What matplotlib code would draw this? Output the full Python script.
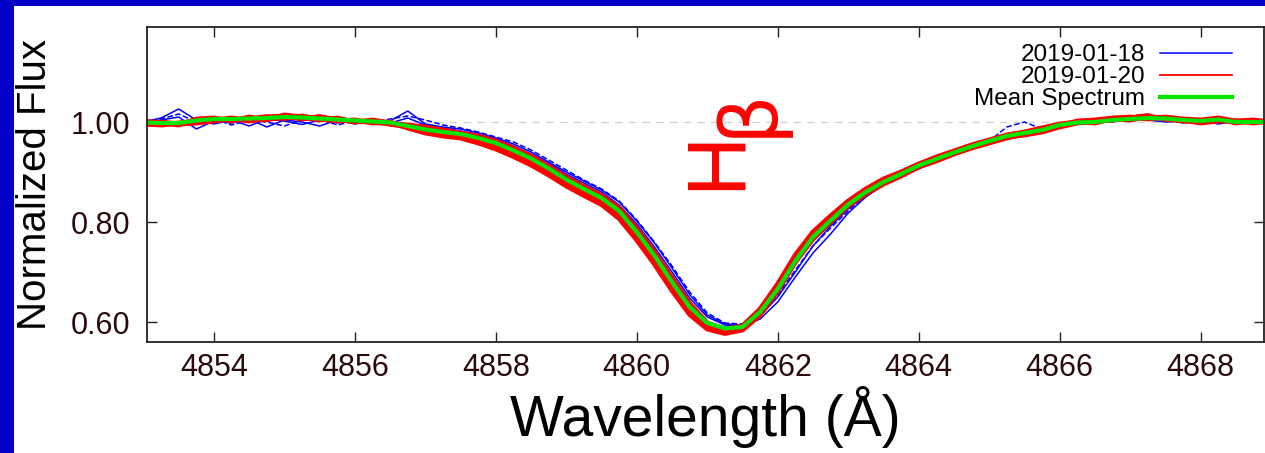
import numpy as np
import matplotlib.pyplot as plt
from matplotlib.lines import Line2D
from matplotlib.patches import Rectangle

plt.rcParams['font.family'] = ['Liberation Sans', 'DejaVu Sans']

# wavelength grid (Angstrom)
wave = [4853.00, 4853.25, 4853.50, 4853.75, 4854.00, 4854.25, 4854.50, 4854.75,
        4855.00, 4855.25, 4855.50, 4855.75, 4856.00, 4856.25, 4856.50, 4856.75,
        4857.00, 4857.25, 4857.50, 4857.75, 4858.00, 4858.25, 4858.50, 4858.75,
        4859.00, 4859.25, 4859.50, 4859.75, 4860.00, 4860.25, 4860.50, 4860.75,
        4861.00, 4861.25, 4861.50, 4861.75, 4862.00, 4862.25, 4862.50, 4862.75,
        4863.00, 4863.25, 4863.50, 4863.75, 4864.00, 4864.25, 4864.50, 4864.75,
        4865.00, 4865.25, 4865.50, 4865.75, 4866.00, 4866.25, 4866.50, 4866.75,
        4867.00, 4867.25, 4867.50, 4867.75, 4868.00, 4868.25, 4868.50, 4868.75,
        4869.00]

# 2019-01-18 spectra
blue_1 = [1.000, 1.008, 1.026, 1.004, 0.996, 1.004, 0.992, 1.006,
          1.002, 0.995, 1.004, 0.998, 1.004, 0.996, 1.002, 1.022,
          0.996, 0.990, 0.986, 0.978, 0.968, 0.956, 0.940, 0.920,
          0.900, 0.882, 0.864, 0.840, 0.802, 0.758, 0.708, 0.655,
          0.614, 0.596, 0.594, 0.612, 0.650, 0.700, 0.752, 0.792,
          0.826, 0.854, 0.878, 0.894, 0.910, 0.924, 0.936, 0.948,
          0.958, 0.968, 0.976, 0.984, 0.992, 0.998, 1.002, 1.006,
          1.004, 1.008, 1.004, 1.000, 0.998, 1.004, 0.996, 1.000,
          1.000]
blue_2 = [0.998, 1.004, 1.010, 0.986, 1.002, 0.998, 1.006, 0.990,
          1.004, 1.000, 0.992, 1.004, 0.996, 1.006, 0.998, 1.008,
          0.994, 0.988, 0.982, 0.974, 0.966, 0.952, 0.936, 0.918,
          0.896, 0.878, 0.860, 0.834, 0.796, 0.750, 0.700, 0.648,
          0.610, 0.594, 0.592, 0.606, 0.640, 0.690, 0.738, 0.776,
          0.818, 0.850, 0.874, 0.892, 0.906, 0.922, 0.934, 0.946,
          0.956, 0.970, 0.974, 0.982, 0.990, 0.996, 1.000, 1.002,
          1.006, 1.004, 1.000, 1.002, 1.004, 0.996, 1.002, 0.998,
          1.000]
blue_3 = [1.002, 1.006, 1.016, 1.000, 1.006, 0.994, 1.004, 1.000,
          0.992, 1.004, 1.006, 0.994, 1.002, 1.000, 1.006, 1.012,
          1.004, 0.994, 0.988, 0.980, 0.970, 0.960, 0.944, 0.924,
          0.904, 0.884, 0.866, 0.842, 0.804, 0.760, 0.712, 0.660,
          0.618, 0.598, 0.596, 0.616, 0.654, 0.704, 0.752, 0.788,
          0.822, 0.852, 0.876, 0.896, 0.912, 0.922, 0.938, 0.950,
          0.962, 0.990, 1.000, 0.986, 0.994, 1.000, 1.004, 1.000,
          1.008, 1.004, 1.006, 0.998, 1.004, 1.000, 1.004, 0.998,
          1.000]

# 2019-01-20 spectra
red_1 = [0.996, 0.994, 0.998, 1.002, 1.004, 1.008, 1.004, 1.010,
         1.012, 1.006, 1.010, 1.004, 1.002, 1.000, 0.996, 0.990,
         0.982, 0.976, 0.972, 0.963, 0.952, 0.937, 0.920, 0.900,
         0.878, 0.859, 0.841, 0.814, 0.771, 0.724, 0.671, 0.622,
         0.590, 0.580, 0.586, 0.618, 0.668, 0.726, 0.774, 0.806,
         0.838, 0.862, 0.880, 0.896, 0.912, 0.926, 0.938, 0.950,
         0.960, 0.970, 0.974, 0.980, 0.990, 0.998, 1.002, 1.004,
         1.008, 1.012, 1.006, 1.002, 1.000, 1.006, 0.998, 1.002,
         0.998]
red_2 = [1.002, 0.998, 0.994, 1.006, 1.008, 1.002, 1.010, 1.004,
         1.014, 1.010, 1.004, 1.008, 1.000, 1.004, 0.998, 0.994,
         0.990, 0.984, 0.978, 0.972, 0.962, 0.948, 0.932, 0.912,
         0.890, 0.871, 0.853, 0.828, 0.787, 0.740, 0.688, 0.637,
         0.598, 0.586, 0.592, 0.626, 0.676, 0.734, 0.780, 0.812,
         0.842, 0.866, 0.886, 0.900, 0.916, 0.930, 0.942, 0.954,
         0.964, 0.974, 0.980, 0.988, 0.996, 1.000, 0.998, 1.006,
         1.004, 1.010, 1.008, 1.004, 0.998, 1.002, 1.002, 0.998,
         1.002]
red_3 = [0.994, 1.000, 0.996, 0.998, 1.002, 1.006, 1.002, 1.006,
         1.008, 1.012, 1.006, 1.002, 1.004, 0.998, 1.000, 0.988,
         0.978, 0.972, 0.968, 0.958, 0.946, 0.931, 0.914, 0.894,
         0.872, 0.853, 0.835, 0.807, 0.764, 0.716, 0.663, 0.615,
         0.586, 0.577, 0.584, 0.614, 0.662, 0.720, 0.766, 0.800,
         0.832, 0.856, 0.876, 0.892, 0.910, 0.922, 0.936, 0.948,
         0.958, 0.968, 0.976, 0.982, 0.992, 1.002, 1.004, 1.008,
         1.010, 1.006, 1.010, 1.006, 1.004, 1.008, 1.002, 1.004,
         1.000]
red_4 = [0.998, 0.992, 1.000, 0.996, 1.006, 1.004, 1.008, 1.012,
         1.006, 1.008, 1.012, 1.006, 1.002, 1.002, 0.994, 0.992,
         0.986, 0.978, 0.974, 0.968, 0.956, 0.942, 0.926, 0.906,
         0.884, 0.864, 0.846, 0.820, 0.778, 0.730, 0.678, 0.628,
         0.594, 0.583, 0.588, 0.622, 0.672, 0.730, 0.776, 0.808,
         0.840, 0.864, 0.884, 0.900, 0.914, 0.928, 0.940, 0.952,
         0.962, 0.972, 0.978, 0.984, 0.996, 0.998, 1.004, 1.002,
         1.010, 1.014, 1.004, 1.006, 1.002, 1.004, 1.000, 1.000,
         1.002]

# mean spectrum
mean_flux = [0.999, 0.998, 0.998, 1.003, 1.006, 1.006, 1.007, 1.008,
             1.010, 1.009, 1.007, 1.005, 1.003, 1.001, 0.999, 0.992,
             0.985, 0.980, 0.976, 0.968, 0.958, 0.943, 0.927, 0.907,
             0.885, 0.866, 0.848, 0.822, 0.780, 0.733, 0.680, 0.630,
             0.598, 0.587, 0.590, 0.620, 0.666, 0.722, 0.770, 0.803,
             0.835, 0.860, 0.880, 0.896, 0.913, 0.926, 0.939, 0.951,
             0.962, 0.972, 0.978, 0.984, 0.994, 0.999, 1.000, 1.004,
             1.006, 1.008, 1.007, 1.004, 1.002, 1.005, 1.000, 1.000,
             1.000]

xticks = [4854, 4856, 4858, 4860, 4862, 4864, 4866, 4868]
yticks = [0.60, 0.80, 1.00]

fig = plt.figure(figsize=(12.65, 4.53), dpi=100)
fig.patch.set_facecolor('#0000c8')
fig.patches.append(Rectangle((14 / 1265, 0), 1, 1 - 6 / 453, transform=fig.transFigure,
                             facecolor='white', edgecolor='none', zorder=-10))

ax = fig.add_axes([147 / 1265, 111 / 453, 1117 / 1265, 315 / 453])
ax.axhline(1.0, color='#d0d0d0', linestyle=(0, (6, 5)), lw=0.9, zorder=0)

ax.plot(wave, blue_1, color='#0000ff', lw=1.1)
ax.plot(wave, blue_2, color='#0000ff', lw=1.1)
ax.plot(wave, blue_3, color='#0000ff', lw=1.1, linestyle='--')
ax.plot(wave, red_1, color='#ff0000', lw=3.5)
ax.plot(wave, red_2, color='#ff0000', lw=3.5)
ax.plot(wave, red_3, color='#ff0000', lw=3.5)
ax.plot(wave, red_4, color='#ff0000', lw=2.6, linestyle='--')
ax.plot(wave, mean_flux, color='#00e600', lw=3.0)

# H-beta label
ax.text(4861.15, 0.924, 'H', color='#ff0000', fontsize=60, rotation=90,
        ha='center', va='center')
ax.text(4861.58, 1.020, '\u03b2', color='#ff0000', fontsize=56, rotation=90,
        ha='center', va='center', family='DejaVu Sans')

ax.set_xlim(4853.05, 4868.9)
ax.set_ylim(0.56, 1.19)
ax.set_xticks(xticks)
ax.set_yticks(yticks)
ax.set_yticklabels(['%.2f' % v for v in yticks])
ax.tick_params(direction='in', length=7, width=1, top=True, right=True,
               labelsize=22, labelcolor='#2b0a0a', color='#222222')
ax.tick_params(axis='x', pad=8)
ax.tick_params(axis='y', pad=12)
for s in ax.spines.values():
    s.set_linewidth(1.3)
    s.set_color('#222222')

ax.set_xlabel('Wavelength (\u00c5)', fontsize=41)
ax.xaxis.set_label_coords(0.5, -0.14)
ax.set_ylabel('Normalized Flux', fontsize=29)
ax.yaxis.set_label_coords(-0.083, 0.5)

handles = [Line2D([], [], color='#0000ff', lw=1.1),
           Line2D([], [], color='#ff0000', lw=1.3),
           Line2D([], [], color='#00e600', lw=3.0)]
ax.legend(handles, ['2019-01-18', '2019-01-20', 'Mean Spectrum'],
          loc='upper right', frameon=False, fontsize=17.5, markerfirst=False,
          handlelength=3.0, handletextpad=0.6, labelspacing=0.0,
          borderaxespad=0.3, bbox_to_anchor=(0.987, 1.0))

fig.savefig('out.png', dpi=100, facecolor=fig.get_facecolor())
